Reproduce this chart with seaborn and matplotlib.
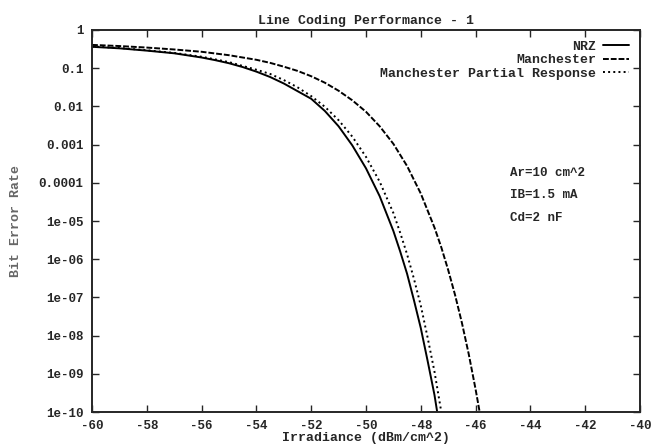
import pandas as pd
import matplotlib
matplotlib.use("Agg")
import matplotlib.pyplot as plt
import seaborn as sns

# irradiance (dBm/cm^2) and log10(bit error rate)
nrz_x = [-60, -59, -58, -57, -56, -55.5, -55, -54.5, -54, -53.5, -53, -52.5, -52,
         -51.5, -51, -50.5, -50, -49.5, -49, -48.75, -48.5, -48.25, -48, -47.75,
         -47.5, -47.4]
nrz_log = [-0.44, -0.48, -0.54, -0.61, -0.72, -0.79, -0.87, -0.97, -1.09, -1.23,
           -1.40, -1.60, -1.80, -2.12, -2.52, -3.02, -3.62, -4.35, -5.26, -5.80,
           -6.38, -7.07, -7.80, -8.66, -9.55, -10.0]

man_x = [-60, -59, -58, -57, -56, -55, -54, -53.5, -53, -52.5, -52, -51.5, -51,
         -50.5, -50, -49.5, -49, -48.5, -48, -47.5, -47.25, -47, -46.75, -46.5,
         -46.25, -46, -45.85]
man_log = [-0.39, -0.42, -0.46, -0.51, -0.57, -0.66, -0.78, -0.86, -0.96, -1.07,
           -1.21, -1.38, -1.59, -1.84, -2.14, -2.52, -2.98, -3.56, -4.28, -5.17,
           -5.69, -6.28, -6.93, -7.66, -8.48, -9.40, -10.0]

mpr_x = [-60, -59, -58, -57, -56, -55, -54, -53.5, -53, -52.5, -52, -51.5, -51,
         -50.5, -50, -49.5, -49, -48.75, -48.5, -48.25, -48, -47.75, -47.5, -47.25]
mpr_log = [-0.43, -0.47, -0.53, -0.60, -0.70, -0.84, -1.04, -1.15, -1.31, -1.50,
           -1.73, -2.01, -2.36, -2.79, -3.32, -3.97, -4.79, -5.31, -5.87, -6.51,
           -7.21, -8.05, -8.94, -10.0]

y_ticks = [1, 0.1, 0.01, 0.001, 0.0001, 1e-5, 1e-6, 1e-7, 1e-8, 1e-9, 1e-10]
y_labels = ['1', '0.1', '0.01', '0.001', '0.0001', '1e-05', '1e-06',
            '1e-07', '1e-08', '1e-09', '1e-10']
x_ticks = [-60, -58, -56, -54, -52, -50, -48, -46, -44, -42, -40]
params = ['Ar=10 cm^2', 'IB=1.5 mA', 'Cd=2 nF']

frames = []
for name, xs, ls in [('NRZ', nrz_x, nrz_log),
                     ('Manchester', man_x, man_log),
                     ('Manchester Partial Response', mpr_x, mpr_log)]:
    frames.append(pd.DataFrame({'x': xs, 'ber': [10 ** v for v in ls], 'code': name}))
df = pd.concat(frames, ignore_index=True)

sns.set_style('ticks')
plt.rcParams['font.family'] = ['Liberation Mono', 'DejaVu Sans Mono']
plt.rcParams['font.weight'] = 'bold'

fig = plt.figure(figsize=(6.55, 4.45), dpi=100)
ax = fig.add_axes([0.1405, 0.074, 0.8365, 0.8586])

styles = {'NRZ': '-', 'Manchester': (0, (3, 1)), 'Manchester Partial Response': ':'}
for name, style in styles.items():
    sns.lineplot(data=df[df['code'] == name], x='x', y='ber', ax=ax, color='black',
                 linestyle=style, linewidth=1.4, label=name, sort=False)

ax.set_yscale('log')
ax.set_xlim(-60, -40)
ax.set_ylim(1e-10, 1)
ax.set_yticks(y_ticks)
ax.set_yticklabels(y_labels)
ax.minorticks_off()
ax.set_xticks(x_ticks)
ax.set_xticklabels([str(t) for t in x_ticks])
ax.tick_params(direction='in', top=True, right=True, length=5, width=1,
               labelsize=9, pad=6)
for s in ax.spines.values():
    s.set_linewidth(1.4)

ax.set_title('Line Coding Performance - 1', fontsize=9.5, fontweight='bold', pad=4)
ax.set_xlabel('Irradiance (dBm/cm^2)', fontsize=9.5, fontweight='bold', labelpad=0)
ax.set_ylabel('Bit Error Rate', fontsize=9.5, fontweight='bold', color='#666666', labelpad=12)

leg = ax.legend(loc='upper right', frameon=False, markerfirst=False, fontsize=9.5,
                handlelength=2.0, handletextpad=0.5, labelspacing=0.1,
                borderaxespad=0.4)
for t in leg.get_texts():
    t.set_fontweight('bold')

for i, p in enumerate(params):
    ax.text(0.763, 0.625 - i * 0.058, p, transform=ax.transAxes, fontsize=9,
            fontweight='bold', va='center', ha='left')

fig.savefig('out.png', dpi=100)
